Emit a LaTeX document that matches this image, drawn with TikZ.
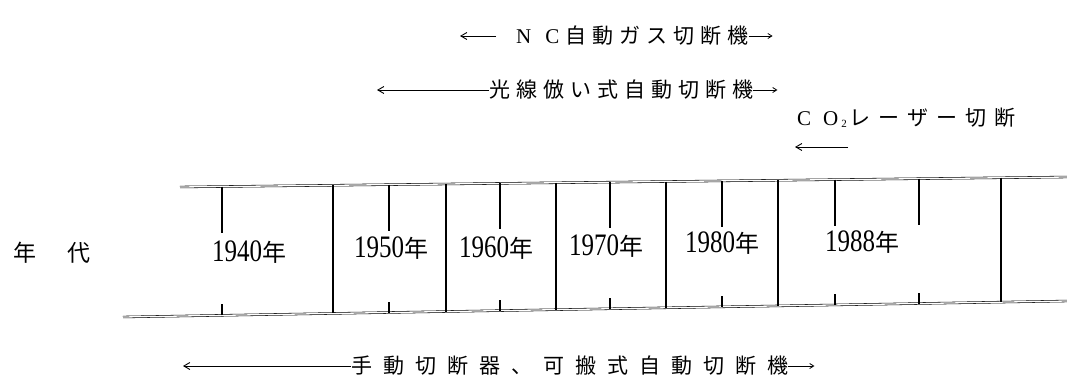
\documentclass[tikz,border=0pt]{standalone}
\usepackage{graphicx}
\usepackage{fontspec}
\setmainfont{Liberation Serif}
\newfontfamily\jp{Noto Sans CJK JP}
\usetikzlibrary{arrows.meta}
\ExplSyntaxOn
\NewDocumentCommand\spread{mm}{\tl_map_inline:nn{#2}{##1\hspace{#1}}\unskip}
\ExplSyntaxOff
\newcommand\yrlabel[1]{\scalebox{1}[1.25]{\fontsize{25}{25}\selectfont #1}{\fontsize{24}{24}\selectfont\jp 年}}
\begin{document}
\begin{tikzpicture}[x=1pt,y=-1pt,
  dbl/.style={line width=0.55pt,double,double distance=1.3pt},
  divline/.style={line width=1.2pt},
  tickline/.style={line width=1.1pt},
  arr/.style={line width=0.9pt,-{Straight Barb[length=6pt,width=7pt]}},
  sarr/.style={line width=0.8pt,-{Straight Barb[length=4pt,width=5pt]}},
  lbl/.style={inner sep=0pt,font=\fontsize{21}{21}\selectfont\jp},
  yr/.style={inner sep=0pt}]
\useasboundingbox (0,0) rectangle (1067,386);
% timeline
\coordinate (TL) at (180,187);
\coordinate (TR) at (1067,177);
\coordinate (BL) at (123,317);
\coordinate (BR) at (1067,301);
\draw[dbl] (TL) -- (TR);
\draw[dbl] (BL) -- (BR);
\foreach \x/\t/\b in {333/185.3/313.4,446/184.0/311.5,556/182.8/309.6,666/181.5/307.8,778/180.3/305.9,1001/177.7/302.1}
  \draw[divline] (\x,\t) -- (\x,\b);
\foreach \x/\t in {222/186.5,389/184.6,500/183.4,610/182.2,722/180.9,835/179.6,919/178.7}
  \draw[tickline] (\x,\t) -- ++(0,46);
\foreach \x/\b in {222/315.3,389/312.5,500/310.6,610/308.7,722/306.8,835/304.9,919/303.5}
  \draw[tickline] (\x,\b) -- ++(0,-11);
% row labels
\node[lbl,font=\fontsize{23}{23}\selectfont\jp] (nendai) at (52,253) {年\hspace{32pt}代};
\node[yr] (y1) at (249,252) {\yrlabel{1940}};
\node[yr] (y2) at (391,248) {\yrlabel{1950}};
\node[yr] (y3) at (496,248) {\yrlabel{1960}};
\node[yr] (y4) at (606,246) {\yrlabel{1970}};
\node[yr] (y5) at (722,243) {\yrlabel{1980}};
\node[yr] (y6) at (862,242) {\yrlabel{1988}};
% texts
\node[lbl,anchor=west] (t1) at (516,36) {{\rmfamily N\hspace{14pt}C}\hspace{6pt}\spread{6pt}{自動ガス切断機}};
\coordinate (a1l) at (460,36);
\coordinate (a1r) at ([xshift=24pt]t1.east);
\draw[arr] ([xshift=-20pt]t1.west) -- (a1l);
\draw[sarr] (t1.east) -- (a1r);

\node[lbl,anchor=west] (t2) at (489,90) {\spread{6pt}{光線倣い式自動切断機}};
\coordinate (a2l) at (377,90);
\coordinate (a2r) at ([xshift=24pt]t2.east);
\draw[arr] (t2.west) -- (a2l);
\draw[sarr] (t2.east) -- (a2r);

\node[lbl,anchor=west] (t3) at (797,118) {{\rmfamily C\hspace{12pt}O\hspace{3pt}\raisebox{-2pt}{\fontsize{11}{11}\selectfont 2}}\hspace{3pt}\spread{8pt}{レーザー切断}};
\coordinate (a3s) at (848,147);
\coordinate (a3e) at (795,147);
\draw[arr] (a3s) -- (a3e);

\node[lbl,anchor=west] (t4) at (351,366) {\spread{11pt}{手動切断器、可搬式自動切断機}};
\coordinate (a4l) at (183,366);
\coordinate (a4r) at ([xshift=26pt]t4.east);
\draw[arr] (t4.west) -- (a4l);
\draw[sarr] (t4.east) -- (a4r);
\end{tikzpicture}
\end{document}
